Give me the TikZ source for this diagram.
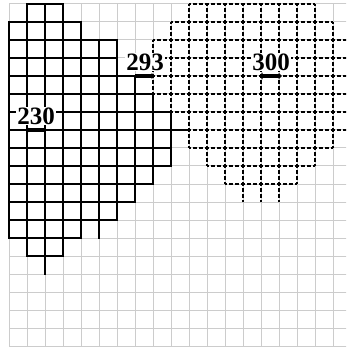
\documentclass[tikz,border=0pt]{standalone}
\usepackage{fontspec}
\setmainfont{Liberation Serif}
\usetikzlibrary{arrows.meta}
\definecolor{gridgray}{RGB}{204,204,204}
\begin{document}
\begin{tikzpicture}[x=1pt,y=-1pt,
  gridline/.style={draw=gridgray,line width=1pt},
  solidline/.style={draw=black,line width=1.3pt,line cap=rect},
  dashline/.style={draw=black,line width=1.3pt,dash pattern=on 3.6pt off 2.4pt,dash phase=1.8pt},
  lbl/.style={fill=white,inner sep=0.8pt,font=\fontsize{25}{25}\selectfont\bfseries},
  markbar/.style={draw=black,line width=4pt}]
\useasboundingbox (0,0) rectangle (346,347);
\clip (0,0) rectangle (346,347);
% background grid
\foreach \i in {0,...,18} \draw[gridline] ({9+18*\i},4) -- ({9+18*\i},350);
\foreach \j in {0,...,19} \draw[gridline] (9,{4+18*\j}) -- (350,{4+18*\j});
% solid region
\foreach \y/\a/\b in {4/27/63, 22/9/81, 40/9/117, 58/9/117, 76/9/135, 94/9/153,
  112/9/171, 130/9/189, 148/9/171, 166/9/171, 184/9/153, 202/9/135, 220/9/117,
  238/9/81, 256/27/63}
  \draw[solidline] (\a,\y) -- (\b,\y);
\foreach \x/\a/\b in {9/22/238, 27/4/256, 45/4/274, 63/4/256, 81/22/238, 99/40/238,
  117/40/220, 135/76/202, 153/94/184, 171/112/166}
  \draw[solidline] (\x,\a) -- (\x,\b);
% dashed region
\foreach \y/\a/\b in {4/189/315, 22/171/333, 40/153/351, 58/153/351, 76/153/351,
  94/153/351, 112/171/351, 130/189/351, 148/189/333, 166/207/315, 184/225/297}
  \draw[dashline] (\a,\y) -- (\b,\y);
\foreach \x/\a/\b in {153/40/94, 171/22/112, 189/4/148, 207/4/166, 225/4/184,
  243/4/202, 261/4/202, 279/4/202, 297/4/184, 315/4/166, 333/22/148}
  \draw[dashline] (\x,\a) -- (\x,\b);
% labels
\node[lbl] (l230) at (36,116) {230};
\node[lbl] (l293) at (145,62) {293};
\node[lbl] (l300) at (271,62) {300};
% marks
\coordinate (m230a) at (26,130);
\coordinate (m230b) at (46,130);
\coordinate (m293a) at (135,76);
\coordinate (m293b) at (155,76);
\coordinate (m300a) at (259,76);
\coordinate (m300b) at (282,76);
\draw[markbar,{Triangle[length=2pt,width=5pt]}-{Triangle[length=2pt,width=5pt]}] (m230a) -- (m230b);
\draw[markbar,-{Triangle[length=3.5pt,width=6pt]}] (m293a) -- (m293b);
\draw[markbar,{Triangle[length=3.5pt,width=6.5pt]}-{Triangle[length=3.5pt,width=6.5pt]}] (m300a) -- (m300b);
\end{tikzpicture}
\end{document}
